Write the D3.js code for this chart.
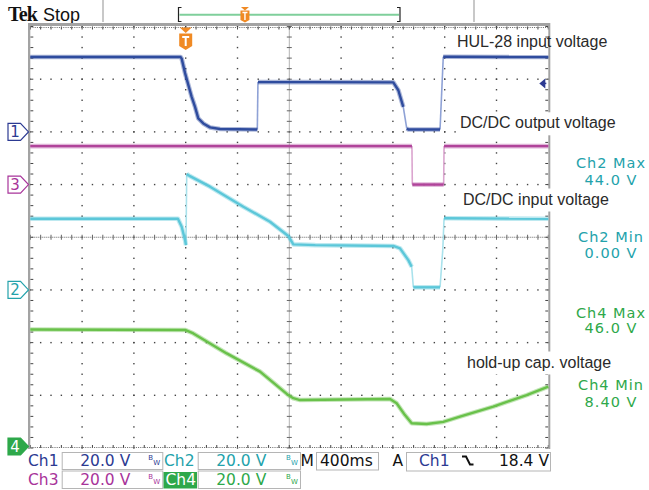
<!DOCTYPE html>
<html><head><meta charset="utf-8">
<script src="https://cdn.jsdelivr.net/npm/d3@7"></script>
<style>body{margin:0;background:#fff}svg{display:block}</style>
</head><body>
<svg id="c" width="649" height="490"></svg>
<script>
// ---- Data (time in ms relative to trigger, volts) ----
const ch1 = [[-1200,28.4],[-39,28.4],[-31,27.8],[-5,22.3],[46,13.3],[72,9.5],[97,5.1],[136,3.2],[188,1.7],[265,1.1],[553,0.9],[558,18.9],[1000,18.9],[1603,18.8],[1642,15.8],[1680,9.5],[1707,1.3],[1720,0.9],[1964,0.9],[1989,28.5],[2800,28.4]];
const ch2 = [[-1200,27.0],[-60,27.0],[-31,24.0],[-5,18.9],[2,17.0],[8,44.0],[33,43.2],[188,39.2],[445,31.6],[651,25.9],[792,20.5],[831,17.3],[1000,17.0],[1603,16.7],[1655,15.8],[1719,11.3],[1745,8.8],[1758,1.0],[1964,1.0],[1985,15.1],[1995,27.2],[2800,27.0]];
const ch3 = [[-1200,14.6],[1747,14.6],[1750,0.0],[1992,0.0],[1995,14.6],[2800,14.6]];
const ch4 = [[-1200,45.0],[-5,44.8],[59,43.5],[317,35.9],[574,29.0],[792,20.1],[831,18.9],[883,18.2],[1578,18.6],[1629,17.0],[1693,12.5],[1745,9.4],[1861,9.1],[1989,9.9],[2118,11.9],[2375,15.7],[2633,20.1],[2800,23.3]];
const channelNames = ["Ch1","Ch2","Ch3","Ch4"];
const voltsPerDiv = [20.0,20.0,20.0,20.0];
const scaleLabels = ["20.0 V","20.0 V","20.0 V","20.0 V"];
const traceLabels = ["HUL-28 input voltage","DC/DC output voltage","DC/DC input voltage","hold-up cap. voltage"];
const measLabels = ["Ch2 Max","Ch2 Min","Ch4 Max","Ch4 Min"];
const measValues = ["44.0 V","0.00 V","46.0 V","8.40 V"];
const timebase = "400ms";
const trigSource = "Ch1";
const trigLevel = 18.4;
const trigLevelLabel = "18.4 V";

// ---- Layout ----
const svg = d3.select("#c");
const L = 30.3, R = 548.3, T = 26.5, B = 448;
const xDiv = d3.scaleLinear().domain([0,10]).range([L,R]);
const yDiv = d3.scaleLinear().domain([-4,4]).range([B,T]);
const x = d3.scaleLinear().domain([-1200,2800]).range([L,R]);
const offsets = {ch1:2, ch2:-1, ch3:1, ch4:-4};
const yCh = (off,vpd) => v => yDiv(off + v/vpd);

const FONT = "'DejaVu Sans', sans-serif";
const col = {ch1:"#2f4c9e", ch2:"#5cc7d9", ch3:"#b0449a", ch4:"#69c14a"};
const txt = {ch1:"#2c3a92", ch2:"#23a2ab", ch3:"#a8349a", ch4:"#2ea84a"};

// ---- Header ----
svg.append("text").attr("x",8).attr("y",20.7).text("Tek")
  .attr("font-family","'Liberation Serif', serif").attr("font-weight","bold").attr("font-size",20).attr("letter-spacing",-0.8).attr("fill","#111");
svg.append("text").attr("x",43).attr("y",20.7).text("Stop")
  .attr("font-family","'Liberation Sans', Arial, sans-serif").attr("font-size",18).attr("fill","#111");
[103,474].forEach(xx=>svg.append("line").attr("x1",xx).attr("x2",xx).attr("y1",0).attr("y2",22).attr("stroke","#c8c8c8").attr("stroke-width",2));
// record bar
const rb0=178.5, rb1=400;
svg.append("line").attr("x1",rb0+1).attr("x2",rb1-1).attr("y1",14.7).attr("y2",14.7).attr("stroke","#7fcf9b").attr("stroke-width",2);
svg.append("path").attr("d",`M${rb0+3},7.5 H${rb0} V21.5 H${rb0+3}`).attr("fill","none").attr("stroke","#222").attr("stroke-width",1.2);
svg.append("path").attr("d",`M${rb1-3},7.5 H${rb1} V21.5 H${rb1-3}`).attr("fill","none").attr("stroke","#222").attr("stroke-width",1.2);
const rbT = rb0 + (rb1-rb0)*(0 - (-1200))/4000;
svg.append("path").attr("d",`M${rbT-4},7 H${rbT+4} L${rbT},10.5 Z`).attr("fill","#f08a24");
svg.append("path").attr("d",`M${rbT-4.5},10.5 H${rbT+4.5} V20 L${rbT},22.5 L${rbT-4.5},20 Z`).attr("fill","#f08a24");
svg.append("path").attr("d",`M${rbT-2.5},12.5 H${rbT+2.5} M${rbT},12.5 V20`).attr("stroke","#fff").attr("stroke-width",1.4);

// ---- Graticule ----
const g = svg.append("g");
const dotC = "#444";
const minorX = d3.range(0,50.0001,1).map(i=>xDiv(i/5));
const minorY = d3.range(0,40.0001,1).map(i=>yDiv(-4+i/5));
for (let k=1;k<10;k++){ if(k===5) continue; const xx=xDiv(k);
  minorY.forEach(yy=>g.append("rect").attr("x",xx-0.7).attr("y",yy-0.7).attr("width",1.4).attr("height",1.4).attr("fill",dotC)); }
for (let k=-3;k<4;k++){ if(k===0) continue; const yy=yDiv(k);
  minorX.forEach(xx=>g.append("rect").attr("x",xx-0.7).attr("y",yy-0.7).attr("width",1.4).attr("height",1.4).attr("fill",dotC)); }
const cx = xDiv(5), cy = yDiv(0);
g.append("line").attr("x1",L).attr("x2",R).attr("y1",cy).attr("y2",cy).attr("stroke","#666").attr("stroke-dasharray","1,1");
g.append("line").attr("x1",cx).attr("x2",cx).attr("y1",T).attr("y2",B).attr("stroke","#666").attr("stroke-dasharray","1,1");
minorX.forEach(xx=>g.append("line").attr("x1",xx).attr("x2",xx).attr("y1",cy-2.5).attr("y2",cy+2.5).attr("stroke","#666"));
minorY.forEach(yy=>g.append("line").attr("x1",cx-2.5).attr("x2",cx+2.5).attr("y1",yy).attr("y2",yy).attr("stroke","#666"));
minorX.forEach(xx=>{
  g.append("line").attr("x1",xx).attr("x2",xx).attr("y1",T).attr("y2",T+3).attr("stroke","#444");
  g.append("line").attr("x1",xx).attr("x2",xx).attr("y1",B-3).attr("y2",B).attr("stroke","#444");
});
minorY.forEach(yy=>{
  g.append("line").attr("x1",L).attr("x2",L+3).attr("y1",yy).attr("y2",yy).attr("stroke","#444");
  g.append("line").attr("x1",R-3).attr("x2",R).attr("y1",yy).attr("y2",yy).attr("stroke","#444");
});
g.append("line").attr("x1",L).attr("x2",R).attr("y1",T+1).attr("y2",T+1).attr("stroke","#666").attr("stroke-dasharray","1,1.2");
g.append("line").attr("x1",L).attr("x2",R).attr("y1",B-0.5).attr("y2",B-0.5).attr("stroke","#666").attr("stroke-dasharray","1,1.2");
g.append("rect").attr("x",28).attr("y",23).attr("width",522).attr("height",3).attr("fill","#a3a3a3");
g.append("rect").attr("x",28).attr("y",23).attr("width",2.3).attr("height",426).attr("fill","#a3a3a3");
g.append("rect").attr("x",R).attr("y",23).attr("width",2).attr("height",426).attr("fill","#a3a3a3");

// ---- Trace labels ----
const labelPos = [[457,47,false],[460,128.3,true],[463,204.5,true],[467,367.5,true]];
traceLabels.forEach((s,i)=>{
  const [lx,ly,bg]=labelPos[i];
  if(bg) svg.append("rect").attr("x",lx-3).attr("y",ly-16).attr("width",160).attr("height",23).attr("fill","#fff");
  svg.append("text").attr("x",lx).attr("y",ly).text(s).attr("font-family","'Liberation Sans', Arial, sans-serif").attr("font-size",16).attr("fill","#2a2a2a");
});

// ---- Traces ----
function drawTrace(data, key, off, vpd, edgeCol){
  const yf = yCh(off, vpd);
  const pts = data.map(d=>[x(d[0]), yf(d[1])]);
  const gg = svg.append("g");
  const isFast = (a,b)=>Math.abs(b[0]-a[0])<4 && Math.abs(b[1]-a[1])>15;
  let seg=[pts[0]]; const segs=[];
  for(let i=0;i<pts.length-1;i++){
    const a=pts[i], b=pts[i+1];
    if(isFast(a,b)){
      gg.append("line").attr("x1",a[0]).attr("y1",a[1]).attr("x2",b[0]).attr("y2",b[1]).attr("stroke",edgeCol).attr("stroke-width",1.6);
      segs.push(seg); seg=[b];
    } else seg.push(b);
  }
  segs.push(seg);
  const line = d3.line().curve(d3.curveLinear);
  segs.forEach(s=>{
    if(s.length<2) return;
    gg.append("path").attr("d",line(s)).attr("fill","none").attr("stroke",col[key]).attr("stroke-opacity",0.4).attr("stroke-width",4.6).attr("stroke-linejoin","round");
    gg.append("path").attr("d",line(s)).attr("fill","none").attr("stroke",col[key]).attr("stroke-width",2.4).attr("stroke-linejoin","round");
  });
}
drawTrace(ch3,"ch3",offsets.ch3,voltsPerDiv[2],"#dba5cf");
drawTrace(ch2,"ch2",offsets.ch2,voltsPerDiv[1],"#a9e2ec");
drawTrace(ch4,"ch4",offsets.ch4,voltsPerDiv[3],"#a8dc90");
drawTrace(ch1,"ch1",offsets.ch1,voltsPerDiv[0],"#8fa2d6");

// ---- Trigger markers ----
const tx = x(0);
svg.append("path").attr("d",`M${tx-6},27.5 H${tx+6} L${tx},33 Z`).attr("fill","#f08a24");
svg.append("path").attr("d",`M${tx-6.5},33.5 H${tx+6.5} V46 L${tx},50 L${tx-6.5},46 Z`).attr("fill","#f08a24");
svg.append("path").attr("d",`M${tx-3.5},37 H${tx+3.5} M${tx},37 V46`).attr("stroke","#fff").attr("stroke-width",2);
const ty = yCh(offsets.ch1, voltsPerDiv[0])(trigLevel);
svg.append("path").attr("d",`M${R-9},${ty} L${R-3},${ty-5} V${ty+5} Z`).attr("fill","#2c3a92");
svg.append("line").attr("x1",R-5).attr("x2",R-2).attr("y1",ty).attr("y2",ty).attr("stroke","#2c3a92").attr("stroke-width",1.5);

// ---- Channel ground markers ----
const markers = [["1","ch1",offsets.ch1,false],["3","ch3",offsets.ch3,false],["2","ch2",offsets.ch2,false],["4","ch4",offsets.ch4,true]];
markers.forEach(([n,k,off,filled])=>{
  let yy = yDiv(off); if(filled) yy = yy-1.5;
  svg.append("path").attr("d",`M8,${yy-8.5} H20.5 L28.5,${yy} L20.5,${yy+8.5} H8 Z`)
    .attr("fill",filled?txt[k]:"#fff").attr("stroke",txt[k]).attr("stroke-width",1.2);
  svg.append("text").attr("x",15).attr("y",yy+5.5).attr("text-anchor","middle").text(n)
    .attr("font-family",FONT).attr("font-size",15).attr("fill",filled?"#fff":txt[k]);
});

// ---- Measurements ----
const measPos = [[168.3,185,"ch2"],[241.7,258,"ch2"],[318.3,333.3,"ch4"],[390,407.3,"ch4"]];
measLabels.forEach((s,i)=>{
  const [y1,y2,k]=measPos[i];
  svg.append("text").attr("x",611).attr("y",y1).attr("text-anchor","middle").text(s).attr("font-family",FONT).attr("font-size",14.5).attr("letter-spacing",1).attr("fill",txt[k]);
  svg.append("text").attr("x",611).attr("y",y2).attr("text-anchor","middle").text(measValues[i]).attr("font-family",FONT).attr("font-size",14.5).attr("letter-spacing",1).attr("fill",txt[k]);
});

// ---- Status bar ----
const sb = svg.append("g").attr("font-family",FONT).attr("font-size",15.5);
function box(x0,x1,y0,y1){ sb.append("rect").attr("x",x0+0.5).attr("y",y0+0.5).attr("width",x1-x0).attr("height",y1-y0).attr("fill","#fff").attr("stroke","#b5b5b5"); }
function bw(xx,yy,c){ sb.append("text").attr("x",xx).attr("y",yy-5).text("B").attr("font-size",7).attr("fill",c); sb.append("text").attr("x",xx+5).attr("y",yy).text("W").attr("font-size",7).attr("fill",c); }
const rows = [[452,469,466],[470.5,488,485]];
const chInfo = [["ch1",0,0,28],["ch2",1,0,164],["ch3",2,1,28],["ch4",3,1,164]];
chInfo.forEach(([k,i,r,xx])=>{
  const [y0,y1,base]=rows[r];
  const bx0 = xx<100?61.7:197.7, bx1 = xx<100?162.3:300;
  box(bx0,bx1,y0,y1);
  if(k==="ch4"){ sb.append("rect").attr("x",163.5).attr("y",y0+1.5).attr("width",33.5).attr("height",y1-y0-1).attr("fill","#2ea84a"); }
  sb.append("text").attr("x",xx+(k==="ch4"?1.5:0)).attr("y",base).text(channelNames[i]).attr("fill",k==="ch4"?"#fff":txt[k]);
  sb.append("text").attr("x",bx0+18.5).attr("y",base).text(scaleLabels[i]).attr("fill",txt[k]);
  bw(bx1-14, base-1, txt[k]);
});
sb.append("text").attr("x",300.5).attr("y",466).text("M").attr("fill","#111");
box(316,378,452,469.5);
sb.append("text").attr("x",320).attr("y",466).text(timebase).attr("fill","#111");
sb.append("text").attr("x",392.5).attr("y",466).text("A").attr("fill","#111");
box(406,550,452,470.5);
sb.append("text").attr("x",419).attr("y",466).text(trigSource).attr("fill",txt.ch1);
sb.append("path").attr("d","M462,456.5 H466 L470,464.5 H473.5").attr("fill","none").attr("stroke","#111").attr("stroke-width",2);
sb.append("text").attr("x",549).attr("y",466).attr("text-anchor","end").text(trigLevelLabel).attr("fill","#111");
</script>
</body></html>
